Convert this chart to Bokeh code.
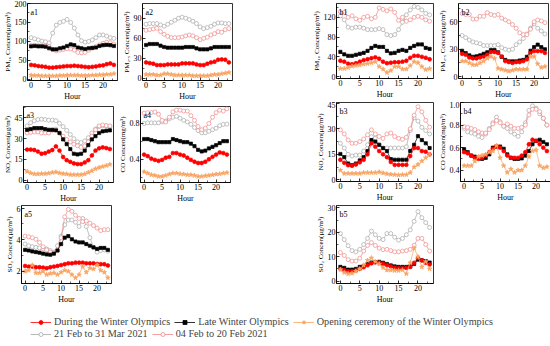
from bokeh.plotting import figure
from bokeh.layouts import row, column
from bokeh.models import Range1d, Label, Legend, LegendItem, FixedTicker, PrintfTickFormatter
from bokeh.embed import file_html
from bokeh.resources import INLINE

hours = list(range(24))
x_ticks = [0, 5, 10, 15, 20]

names = {
    "red": "During the Winter Olympics",
    "black": "Late Winter Olympics",
    "orange": "Opening ceremony of the Winter Olympics",
    "gray": "21 Feb to 31 Mar 2021",
    "pink": "04 Feb to 20 Feb 2021",
}

# ---------------- a1 PM10 ----------------
a1_gray = [110, 107, 104, 101, 99, 96, 122, 143, 150, 153, 158, 150, 135, 117, 102, 98, 100, 104, 110, 117, 117, 114, 110, 108]
a1_pink = [90, 90, 89, 89, 88, 86, 79, 75, 77, 79, 81, 80, 77, 71, 70, 71, 77, 82, 86, 91, 95, 98, 97, 93]
a1_black = [87, 88, 87, 87, 86, 82, 79, 79, 82, 84, 88, 92, 90, 84, 82, 80, 82, 83, 84, 88, 90, 91, 90, 88]
a1_red = [38, 37, 35, 34, 33, 31, 31, 32, 33, 34, 35, 35, 36, 35, 34, 33, 32, 33, 34, 36, 37, 40, 42, 38]
a1_orange = [11, 10, 10, 9, 9, 9, 9, 9, 10, 10, 11, 11, 11, 11, 10, 10, 10, 11, 11, 12, 12, 13, 13, 15]

# ---------------- a2 PM2.5 ----------------
a2_gray = [81, 82, 82, 82, 80, 78, 81, 84, 87, 90, 91.5, 90, 88, 85.5, 82, 77, 74.5, 76, 78, 81, 83, 83, 82, 82]
a2_pink = [72, 73, 74, 75, 70, 66, 63, 61, 61, 61, 62, 63.7, 65, 63.7, 61, 58, 60, 61.6, 65, 67, 70, 69, 73, 74.5]
a2_black = [50, 51.5, 51.5, 51.5, 49, 47, 46, 46, 46, 46, 46, 47, 47, 47, 45, 43.5, 43.5, 43.5, 45, 47, 47, 47, 47, 47]
a2_red = [24, 23, 22, 20, 20, 20, 21, 21, 21, 21, 22.6, 22.6, 22.6, 22.6, 21, 20, 20, 22, 24, 25, 28, 28.5, 28, 24]
a2_orange = [6, 6, 6, 5, 5, 7, 7, 6, 5, 5, 5, 5, 5, 4, 4, 4, 4, 4, 5, 6, 6, 7, 8, 9]

# ---------------- a3 NO2 ----------------
a3_gray = [39.1, 41.4, 42.8, 43.7, 43.9, 43.7, 43.2, 43.2, 42.8, 40.9, 38.6, 35.9, 32.9, 29.9, 27.6, 27.1, 28.3, 30.6, 34.0, 36.8, 38.6, 39.1, 39.1, 38.6]
a3_pink = [34.0, 34.5, 34.7, 34.7, 34.0, 34.0, 34.0, 35.9, 36.8, 34.0, 31.7, 29.4, 27.6, 26.0, 24.8, 23.7, 24.8, 27.6, 31.7, 36.3, 39.1, 39.8, 39.3, 39.1]
a3_black = [36.3, 36.8, 37.5, 37.5, 37.5, 36.8, 36.3, 36.3, 35.9, 34.0, 29.4, 26.0, 22.5, 19.1, 18.6, 19.1, 21.4, 25.3, 29.4, 31.7, 34.0, 35.2, 35.6, 35.9]
a3_red = [22.1, 22.1, 21.8, 20.7, 19.1, 19.5, 20.7, 21.8, 24.4, 21.4, 16.8, 14.5, 13.3, 12.2, 11.7, 11.7, 12.9, 14.5, 17.9, 21.4, 23.0, 23.7, 23.2, 22.5]
a3_orange = [6.4, 5.3, 4.6, 4.6, 4.8, 4.8, 5.1, 5.7, 6.0, 5.3, 4.8, 4.6, 4.1, 4.1, 4.1, 4.1, 4.6, 5.7, 6.9, 8.3, 9.2, 9.9, 10.6, 11.5]

# ---------------- a4 CO ----------------
a4_gray = [0.80, 0.807, 0.807, 0.807, 0.807, 0.817, 0.828, 0.852, 0.87, 0.88, 0.859, 0.835, 0.817, 0.79, 0.755, 0.72, 0.696, 0.696, 0.713, 0.73, 0.748, 0.776, 0.79, 0.793]
a4_pink = [0.915, 0.922, 0.922, 0.928, 0.904, 0.835, 0.817, 0.87, 0.93, 0.949, 0.949, 0.939, 0.939, 0.887, 0.835, 0.765, 0.73, 0.748, 0.80, 0.87, 0.922, 0.949, 0.939, 0.964]
a4_black = [0.626, 0.626, 0.615, 0.602, 0.591, 0.591, 0.591, 0.591, 0.626, 0.615, 0.602, 0.591, 0.591, 0.574, 0.546, 0.505, 0.487, 0.497, 0.521, 0.539, 0.557, 0.581, 0.602, 0.602]
a4_red = [0.452, 0.435, 0.407, 0.393, 0.382, 0.393, 0.417, 0.427, 0.469, 0.469, 0.452, 0.442, 0.417, 0.393, 0.372, 0.358, 0.358, 0.372, 0.40, 0.427, 0.452, 0.476, 0.469, 0.452]
a4_orange = [0.26, 0.244, 0.226, 0.219, 0.208, 0.208, 0.219, 0.233, 0.244, 0.244, 0.236, 0.233, 0.226, 0.226, 0.219, 0.208, 0.208, 0.215, 0.219, 0.226, 0.233, 0.236, 0.244, 0.25]

# ---------------- a5 SO2 ----------------
a5_gray = [3.73, 3.62, 3.56, 3.52, 3.48, 3.42, 3.42, 3.32, 3.22, 3.62, 4.23, 4.95, 5.25, 5.25, 5.11, 4.84, 5.35, 4.84, 4.13, 3.52, 3.22, 3.32, 3.36, 3.28]
a5_pink = [4.23, 4.19, 4.13, 4.03, 3.83, 3.56, 3.36, 3.22, 3.16, 3.32, 4.13, 5.45, 5.92, 5.80, 5.55, 5.35, 5.15, 5.19, 5.05, 4.90, 4.74, 4.58, 4.64, 4.64]
a5_black = [3.36, 3.32, 3.26, 3.22, 3.18, 3.12, 3.07, 3.05, 3.12, 3.32, 3.73, 4.13, 4.23, 4.03, 3.89, 3.83, 3.83, 3.73, 3.62, 3.52, 3.42, 3.48, 3.48, 3.36]
a5_red = [2.34, 2.30, 2.30, 2.26, 2.26, 2.24, 2.20, 2.26, 2.30, 2.34, 2.40, 2.45, 2.51, 2.51, 2.55, 2.55, 2.55, 2.51, 2.51, 2.51, 2.47, 2.45, 2.45, 2.37]
a5_orange = [2.0, 2.06, 2.40, 1.90, 1.90, 2.0, 1.79, 1.86, 1.90, 1.79, 1.94, 2.06, 2.0, 1.79, 1.59, 1.79, 2.30, 1.94, 2.20, 2.14, 2.40, 2.06, 1.94, 1.59]

# ---------------- b1 PM10 ----------------
b1_gray = [123, 115, 100, 98, 100, 100, 98, 95, 95, 95, 97, 95, 85, 83, 85, 95, 110, 125, 135, 142, 140, 135, 128, 125]
b1_pink = [131, 130, 120, 123, 117, 114, 120, 122, 117, 120, 139, 136, 133, 137, 130, 114, 120, 112, 115, 120, 122, 120, 115, 112]
b1_black = [50, 45, 42, 42, 44, 46, 48, 52, 58, 62, 60, 60, 52, 47, 48, 52, 54, 52, 58, 62, 65, 65, 58, 56]
b1_red = [32, 30, 26, 25, 27, 30, 33, 35, 37, 39, 36, 30, 27, 28, 29, 29, 30, 32, 38, 42, 42, 40, 38, 35]
b1_orange = [16, 16, 18, 21, 22, 23, 25, 26, 28, 30, 20, 15, 8, 12, 20, 20, 15, 15, 22, 30, 28, 20, 14, 16]

# ---------------- b2 PM2.5 ----------------
b2_gray = [45, 42.7, 40, 38, 37, 36, 34, 34, 34, 34, 35, 31.7, 30, 29, 30, 35, 38, 41.7, 46.7, 53, 57.7, 53, 50, 46.7]
b2_pink = [69, 68, 68, 63, 63, 66, 66, 70, 68, 67, 68, 64, 62, 60, 57, 53, 48, 46, 46, 52, 60, 62, 61, 59]
b2_black = [28.3, 25.7, 23.3, 21.7, 22.3, 23.3, 25, 26.7, 29, 29, 26.7, 21.7, 18.3, 16.7, 16.7, 16.7, 17.7, 18.3, 21.7, 28.3, 32.3, 35, 32.3, 30]
b2_red = [25, 24, 21, 20, 20, 21, 22, 24, 27, 27, 26, 22, 17, 16, 15, 16, 16, 17, 19, 26, 28, 28, 28, 26]
b2_orange = [17, 17, 15, 13, 13, 15, 17, 20, 22, 20, 9, 8, 7, 6, 7, 8, 8, 8, 8, 22, 22, 14, 10, 11]

# ---------------- b3 NO2 ----------------
b3_gray = [21.5, 18.7, 15, 14, 14.5, 14.5, 16.9, 20.6, 25.3, 24.4, 20.6, 18.7, 18.7, 18.7, 18.7, 18.7, 18.7, 19.5, 29, 36.5, 34.6, 30.9, 29, 27]
b3_pink = [29.4, 27, 23.4, 21.5, 21.5, 22.5, 24, 26.5, 29.4, 27, 25.5, 24.4, 27, 27.5, 25.5, 24.4, 23.8, 25, 30, 38, 43, 40, 35, 31]
b3_black = [15.2, 13.3, 9.6, 8.6, 9.6, 11.4, 13.3, 16.9, 23.4, 22.5, 20.6, 18.7, 16.9, 12.2, 11.8, 11.8, 11.8, 11.8, 17, 20.6, 25.7, 23.4, 21.5, 18.7]
b3_red = [11.8, 10, 8.6, 8.3, 9, 10.3, 11.8, 15, 21.5, 19.5, 16.9, 15, 13.3, 10.5, 8.8, 8.8, 8.8, 8.8, 14, 18.7, 18.7, 16.9, 16.5, 15]
b3_orange = [5.6, 3.7, 3.7, 3.7, 3.7, 3.7, 4.2, 4.2, 4.2, 4.2, 4.6, 4, 3.5, 3.2, 3, 2.8, 3, 3, 4.2, 7.5, 9, 11, 13, 15]

# ---------------- b4 CO ----------------
b4_gray = [0.77, 0.74, 0.73, 0.72, 0.70, 0.69, 0.72, 0.77, 0.82, 0.87, 0.83, 0.79, 0.77, 0.74, 0.72, 0.70, 0.74, 0.82, 0.93, 0.97, 0.95, 0.90, 0.86, 0.80]
b4_pink = [0.786, 0.78, 0.77, 0.76, 0.74, 0.73, 0.73, 0.76, 0.81, 0.84, 0.82, 0.79, 0.81, 0.79, 0.77, 0.77, 0.78, 0.80, 0.89, 0.94, 0.94, 0.92, 0.86, 0.80]
b4_black = [0.586, 0.56, 0.53, 0.52, 0.51, 0.50, 0.51, 0.54, 0.60, 0.61, 0.61, 0.59, 0.54, 0.51, 0.50, 0.50, 0.505, 0.53, 0.57, 0.63, 0.66, 0.67, 0.65, 0.63]
b4_red = [0.56, 0.55, 0.53, 0.51, 0.50, 0.51, 0.53, 0.56, 0.59, 0.61, 0.60, 0.57, 0.53, 0.51, 0.51, 0.51, 0.53, 0.56, 0.63, 0.67, 0.66, 0.63, 0.60, 0.57]
b4_orange = [0.44, 0.44, 0.44, 0.48, 0.52, 0.53, 0.54, 0.56, 0.57, 0.62, 0.51, 0.44, 0.38, 0.41, 0.38, 0.40, 0.40, 0.44, 0.52, 0.57, 0.58, 0.44, 0.42, 0.43]

# ---------------- b5 SO2 ----------------
b5_gray = [19.5, 17, 14.5, 12.5, 12, 13, 15, 17.5, 20.5, 19, 17.5, 17, 19.5, 19.5, 18, 16.8, 17.5, 19, 21, 24.5, 28.5, 26, 24, 22]
b5_pink = [11.7, 10.5, 8.8, 8.2, 8.2, 9.4, 12.3, 14.6, 15.8, 14.6, 13.5, 12.9, 13, 12.5, 12, 12, 12.3, 12.5, 13, 14.7, 17.5, 17.5, 15, 12.3]
b5_black = [5.8, 5.4, 4.7, 4.7, 5, 5.8, 6.2, 7, 7.6, 7.8, 7.9, 7.5, 7, 6.4, 6, 5.8, 5.8, 5.8, 6, 7, 8.8, 8.5, 8.2, 7.6]
b5_red = [5, 4.5, 4, 4, 4.3, 5, 5.7, 6.5, 7.3, 7.7, 7.5, 7, 6.5, 6, 5.5, 5.3, 5.3, 5.4, 5.8, 7.5, 9.5, 8.5, 7.5, 6.8]
b5_orange = [4.7, 3.5, 3, 3.2, 4, 5, 6.5, 8.5, 9.5, 8, 7, 5.5, 4.5, 4.5, 4.3, 4.3, 4.5, 3, 7.5, 13.5, 10, 5.8, 8, 5]

FONT = "Liberation Serif"
ORDER = ["gray", "pink", "black", "red", "orange"]
STYLE = {
    "gray": dict(color="#A8A8A8", marker="circle", fill="white", size=4.0),
    "pink": dict(color="#F08888", marker="circle", fill="white", size=4.0),
    "black": dict(color="#000000", marker="square", fill="#000000", size=3.2),
    "red": dict(color="#FF0000", marker="circle", fill="#FF0000", size=3.8),
    "orange": dict(color="#F9A462", marker="star", fill="#F9A462", size=4.8),
}


def make_panel(tag, ylabel, yr, yt, data, fw, fh, bl, br, bt, bb, fmt=None):
    p = figure(frame_width=fw, frame_height=fh,
               x_range=Range1d(-1, 24), y_range=Range1d(*yr),
               min_border_left=bl, min_border_right=br,
               min_border_top=bt, min_border_bottom=bb,
               output_backend="svg", toolbar_location=None)
    p.grid.visible = False
    p.outline_line_color = "black"
    p.outline_line_width = 0.8
    p.outline_line_alpha = 1.0
    p.background_fill_color = "white"
    p.border_fill_color = "white"
    for key in ORDER:
        st = STYLE[key]
        ys = data[key]
        p.line(hours, ys, line_color=st["color"], line_width=0.7)
        p.scatter(hours, ys, marker=st["marker"], size=st["size"],
                  line_color=st["color"], fill_color=st["fill"], line_width=0.7)
    step = yt[1] - yt[0]
    ymin = [t + step / 2 for t in [yt[0] - step] + yt]
    p.xaxis.ticker = FixedTicker(ticks=x_ticks, minor_ticks=[2.5, 7.5, 12.5, 17.5, 22.5])
    p.yaxis.ticker = FixedTicker(ticks=yt, minor_ticks=ymin)
    if fmt:
        p.yaxis.formatter = PrintfTickFormatter(format=fmt)
    for ax in p.axis:
        ax.major_tick_in = 3
        ax.major_tick_out = 0
        ax.minor_tick_in = 2
        ax.minor_tick_out = 0
        ax.axis_line_width = 0.8
        ax.major_tick_line_width = 0.8
        ax.minor_tick_line_width = 0.6
        ax.major_label_text_font = FONT
        ax.major_label_text_font_size = "8px"
        ax.major_label_text_color = "black"
        ax.major_label_standoff = 1
        ax.axis_label_text_font = FONT
        ax.axis_label_text_font_style = "normal"
        ax.axis_label_text_color = "black"
    p.xaxis.axis_label = "Hour"
    p.xaxis.axis_label_text_font_size = "8px"
    p.xaxis.axis_label_standoff = 1
    p.yaxis.axis_label = ylabel
    p.yaxis.axis_label_text_font_size = "7px"
    p.yaxis.axis_label_standoff = 0
    p.add_layout(Label(x=-1, y=yr[1], x_offset=3, y_offset=-4, text=tag,
                       text_font=FONT, text_font_size="8px", text_baseline="top",
                       text_color="black"))
    return p


def d(g, pk, bk, r, o):
    return {"gray": g, "pink": pk, "black": bk, "red": r, "orange": o}


PM10 = "PM\u2081\u2080 Concen(\u03bcg/m\u00b3)"
PM25 = "PM\u2082.\u2085 Concen(\u03bcg/m\u00b3)"
NO2 = "NO\u2082 Concen(\u03bcg/m\u00b3)"
CO = "CO Concen(mg/m\u00b3)"
SO2 = "SO\u2082 Concen(\u03bcg/m\u00b3)"

a1 = make_panel("a1", PM10, (-3, 200), [0, 50, 100, 150, 200], d(a1_gray, a1_pink, a1_black, a1_red, a1_orange), 90, 77, 21, 2, 3, 20)
a2 = make_panel("a2", PM25, (-3, 112), [0, 30, 60, 90], d(a2_gray, a2_pink, a2_black, a2_red, a2_orange), 90, 77, 18, 11, 3, 20)
a3 = make_panel("a3", NO2, (-1.5, 53), [0, 15, 30, 45], d(a3_gray, a3_pink, a3_black, a3_red, a3_orange), 90, 76, 21, 2, 3, 20)
a4 = make_panel("a4", CO, (0.14, 0.99), [0.4, 0.8], d(a4_gray, a4_pink, a4_black, a4_red, a4_orange), 90, 76, 19, 10, 3, 20, "%.1f")
a5 = make_panel("a5", SO2, (1.23, 6.17), [2, 4, 6], d(a5_gray, a5_pink, a5_black, a5_red, a5_orange), 90, 78, 21, 2, 0, 20)

b1 = make_panel("b1", PM10, (-4, 148), [0, 40, 80, 120], d(b1_gray, b1_pink, b1_black, b1_red, b1_orange), 97, 75, 93, 2, 3, 20)
b2 = make_panel("b2", PM25, (-2, 80), [0, 30, 60], d(b2_gray, b2_pink, b2_black, b2_red, b2_orange), 90, 75, 18, 2, 3, 20)
b3 = make_panel("b3", NO2, (-1, 45.5), [0, 15, 30, 45], d(b3_gray, b3_pink, b3_black, b3_red, b3_orange), 97, 79, 93, 2, 1, 20)
b4 = make_panel("b4", CO, (0.3, 1.0), [0.4, 0.6, 0.8, 1.0], d(b4_gray, b4_pink, b4_black, b4_red, b4_orange), 90, 79, 19, 1, 1, 20, "%.1f")
b5 = make_panel("b5", SO2, (-1, 31), [0, 10, 20, 30], d(b5_gray, b5_pink, b5_black, b5_red, b5_orange), 97, 78, 93, 2, 1, 20)

# ---------------- legend ----------------
lf = figure(width=534, height=33, x_range=Range1d(0, 1), y_range=Range1d(0, 1),
            x_axis_type=None, y_axis_type=None, min_border=0,
            output_backend="svg", toolbar_location=None)
lf.outline_line_color = None
nan = float("nan")
items = {}
for key in ["red", "black", "orange", "gray", "pink"]:
    st = STYLE[key]
    rl = lf.line(x=[nan, nan], y=[nan, nan], line_color=st["color"], line_width=0.8)
    rs = lf.scatter(x=[nan], y=[nan], marker=st["marker"], size=st["size"],
                    line_color=st["color"], fill_color=st["fill"], line_width=0.8)
    items[key] = LegendItem(label=names[key], renderers=[rl, rs])


def mk_legend(keys, loc):
    lg = Legend(items=[items[k] for k in keys], orientation="horizontal", location=loc,
                glyph_width=21, glyph_height=10, label_standoff=3, spacing=4,
                padding=0, margin=0, border_line_alpha=0, background_fill_alpha=0,
                label_text_font=FONT, label_text_font_size="10.2px", label_height=10)
    return lg


lf.add_layout(mk_legend(["red", "black", "orange"], (30, 12)))
lf.add_layout(mk_legend(["gray", "pink"], (30, 0)))

left = column(row(a1, a2), row(a3, a4), a5)
right = column(row(b1, b2), row(b3, b4), b5)
root = column(row(left, right), lf)

open("out.html", "w").write(file_html(root, INLINE))
